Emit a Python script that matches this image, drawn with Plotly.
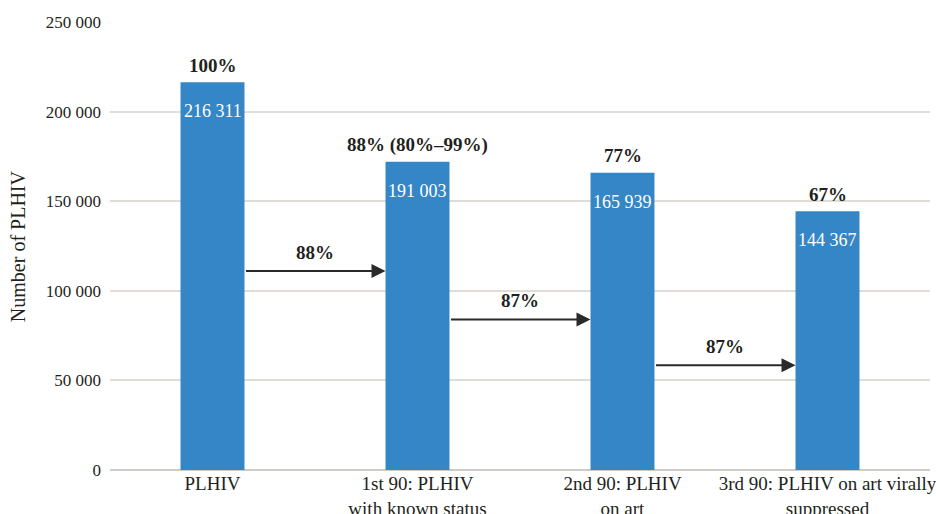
import plotly.graph_objects as go

categories = ["PLHIV", "1st 90: PLHIV<br>with known status", "2nd 90: PLHIV<br>on art",
              "3rd 90: PLHIV on art virally<br>suppressed"]
bar_heights = [216311, 172000, 165939, 144367]
value_labels = ["216 311", "191 003", "165 939", "144 367"]
pct_labels = ["100%", "88% (80%–99%)", "77%", "67%"]
step_labels = ["88%", "87%", "87%"]
step_levels = [111000, 84000, 58500]
y_ticks = [0, 50000, 100000, 150000, 200000, 250000]

FONT = "Liberation Serif"
TEXT = "#231f20"
BAR_COLOR = "#3586c7"
BARGAP = 0.688
half_w = (1 - BARGAP) / 2

fig = go.Figure()
fig.add_trace(go.Bar(
    x=list(range(len(categories))), y=bar_heights,
    marker=dict(color=BAR_COLOR, line=dict(width=0)),
    hoverinfo="skip", showlegend=False,
))

annotations = []
for i, (h, v, p) in enumerate(zip(bar_heights, value_labels, pct_labels)):
    annotations.append(dict(x=i, y=h, xref="x", yref="y", text=v, showarrow=False,
                            yanchor="middle", yshift=-29,
                            font=dict(family=FONT, size=18, color="white")))
    annotations.append(dict(x=i, y=h, xref="x", yref="y", text="<b>%s</b>" % p, showarrow=False,
                            yanchor="middle", yshift=17,
                            font=dict(family=FONT, size=19, color=TEXT)))

for i, (lab, lev) in enumerate(zip(step_labels, step_levels)):
    annotations.append(dict(x=i + 1 - half_w, y=lev, ax=i + half_w, ay=lev,
                            xref="x", yref="y", axref="x", ayref="y",
                            showarrow=True, arrowhead=2, arrowsize=1.4, arrowwidth=2,
                            arrowcolor="#2a2a2a", text=""))
    annotations.append(dict(x=i + 0.5, y=lev, xref="x", yref="y", text="<b>%s</b>" % lab,
                            showarrow=False, yanchor="middle", yshift=19,
                            font=dict(family=FONT, size=19, color=TEXT)))

annotations.append(dict(x=-0.112, y=0.5, xref="paper", yref="paper", text="Number of PLHIV",
                        textangle=-90, showarrow=False, xanchor="center", yanchor="middle",
                        font=dict(family=FONT, size=20, color=TEXT)))

fig.update_layout(
    width=936, height=514,
    margin=dict(l=110, r=6, t=22, b=44, autoexpand=False),
    paper_bgcolor="white", plot_bgcolor="white",
    bargap=BARGAP,
    separators=". ",
    font=dict(family=FONT, size=17, color=TEXT),
    annotations=annotations,
    xaxis=dict(tickmode="array", tickvals=list(range(len(categories))), ticktext=categories,
               range=[-0.5, len(categories) - 0.5], showgrid=False, zeroline=False,
               showline=False, ticks="", automargin=False, ticklabeloverflow="allow",
               tickfont=dict(family=FONT, size=19, color=TEXT)),
    yaxis=dict(range=[0, 250000], tickvals=y_ticks, tickformat=",d",
               showgrid=True, gridcolor="#e0dcd8", gridwidth=1.5,
               zeroline=True, zerolinecolor="#cfcbc7", zerolinewidth=1.5,
               showline=False, ticks="", automargin=False, ticklabelstandoff=8,
               tickfont=dict(family=FONT, size=17, color=TEXT)),
)

fig.write_html("out.html", config={"displayModeBar": False},
               post_script="document.body.style.margin='0';document.body.style.overflow='hidden';")
